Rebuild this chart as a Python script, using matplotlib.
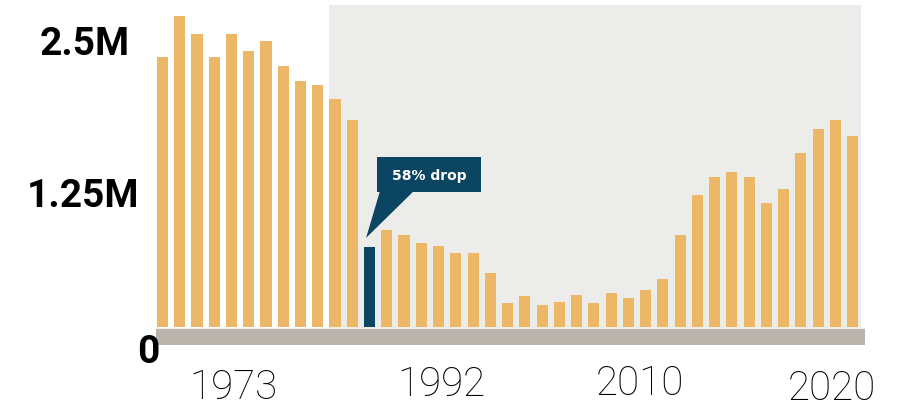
import matplotlib.pyplot as plt
from matplotlib.patches import Polygon, Rectangle
import matplotlib.transforms as mtransforms

# yearly totals, in millions
values = [2.45, 2.83, 2.66, 2.45, 2.66, 2.51, 2.60, 2.37, 2.24, 2.20, 2.07, 1.88,
          0.73, 0.88, 0.84, 0.76, 0.74, 0.67, 0.67, 0.49, 0.22, 0.28, 0.20, 0.23,
          0.29, 0.22, 0.31, 0.26, 0.34, 0.44, 0.84, 1.20, 1.36, 1.41, 1.36, 1.13,
          1.25, 1.58, 1.80, 1.88, 1.74]
drop_index = 12
drop_label = '58% drop'

y_ticks = [0, 1.25, 2.5]
y_tick_labels = ['0', '1.25M', '2.5M']
x_tick_labels = ['1973', '1992', '2010', '2020']

bar_color = '#ECB766'
drop_color = '#0C4562'
panel_color = '#ECECEA'
band_color = '#BAB4AC'

fig = plt.figure(figsize=(8.97, 4.08), dpi=100)
ax = fig.add_axes([0.1739, 0.1544, 0.7904, 0.8333])
ax.set_xlim(-0.377, 40.72)
ax.set_ylim(-0.1636, 2.927)
ax.axis('off')

# shaded panel behind the later years and the grey floor band
ax.add_patch(Rectangle((9.65, -0.009), 40.49 - 9.65, 2.927 + 0.009,
                       facecolor=panel_color, edgecolor='none', zorder=0))
ax.axhspan(-0.1636, -0.018, color=band_color, zorder=1)

x = list(range(len(values)))
colors = [drop_color if i == drop_index else bar_color for i in x]
ax.bar(x, values, width=0.64, color=colors, zorder=2)

# callout box with a pointer down to the highlighted bar
tip_x, tip_y = drop_index - 0.2, values[drop_index] + 0.08
box_l, box_r = tip_x + 0.63, tip_x + 6.66
box_b, box_t = tip_y + 0.418, tip_y + 0.736
ax.add_patch(Rectangle((box_l, box_b), box_r - box_l, box_t - box_b,
                       facecolor=drop_color, edgecolor='none', zorder=3))
ax.add_patch(Polygon([(tip_x, tip_y), (tip_x + 0.81, box_b + 0.01),
                      (tip_x + 2.78, box_b + 0.01)],
                     closed=True, facecolor=drop_color, edgecolor='none', zorder=3))
ax.text((box_l + box_r) / 2, (box_b + box_t) / 2 - 0.01, drop_label,
        color='white', fontsize=10, fontweight='bold', family='DejaVu Sans',
        ha='center', va='center', zorder=4)

# y labels, baseline placed relative to each tick value
y_offsets_px = [-36, -17.5, -3]
y_right = [0.0056, -0.024, -0.0367]
for val, lab, off, xr in zip(y_ticks, y_tick_labels, y_offsets_px, y_right):
    tr = mtransforms.blended_transform_factory(ax.transAxes, ax.transData)
    tr = mtransforms.offset_copy(tr, fig=fig, x=0, y=off * 0.72, units='points')
    ax.text(xr, val, lab, transform=tr, ha='right', va='baseline',
            fontsize=28, fontweight='bold', family=['Roboto', 'DejaVu Sans'])

# year labels under the band
x_pos = [4.09, 16.14, 27.68, 38.81]
x_base = [-0.1588, -0.15, -0.1471, -0.1618]
xtr = mtransforms.blended_transform_factory(ax.transData, ax.transAxes)
for xp, yb, lab in zip(x_pos, x_base, x_tick_labels):
    ax.text(xp, yb, lab, transform=xtr, ha='center', va='baseline',
            fontsize=29, fontweight='light', family=['Roboto', 'DejaVu Sans'])

plt.savefig('out.png', dpi=100)
